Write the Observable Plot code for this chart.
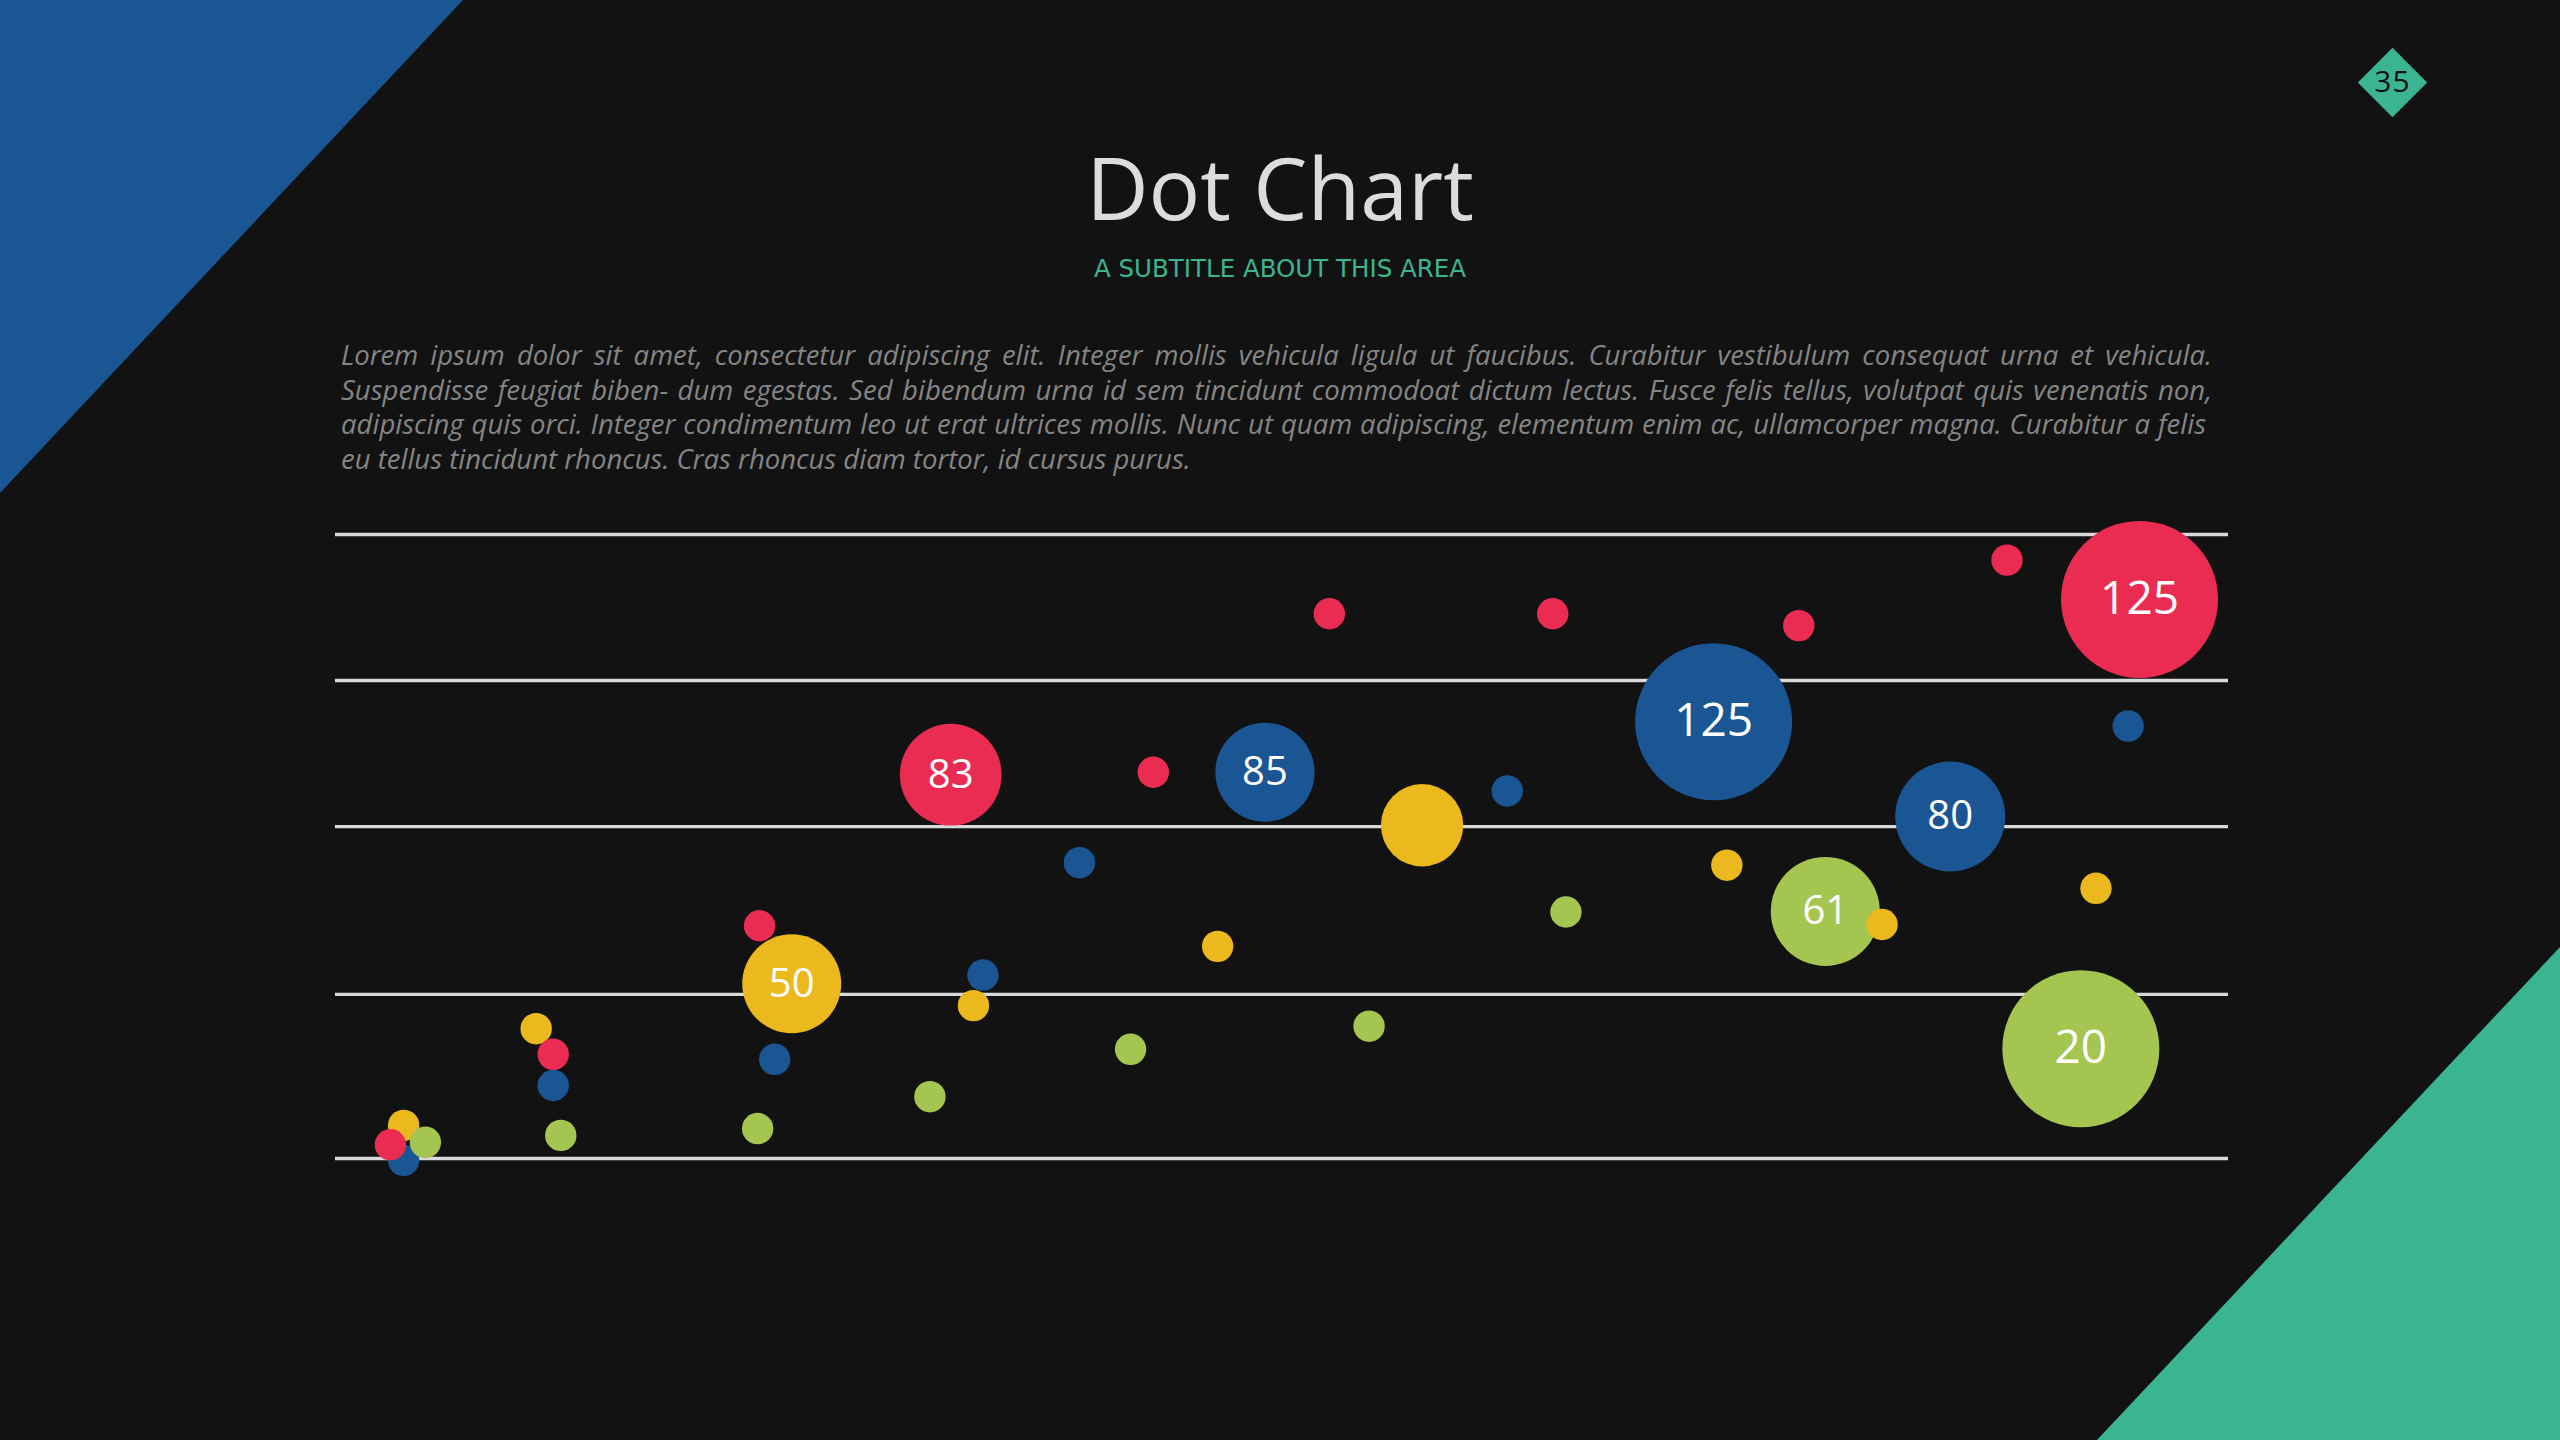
<!DOCTYPE html>
<html>
<head>
<meta charset="utf-8">
<script src="https://cdn.jsdelivr.net/npm/d3@7"></script>
<script src="https://cdn.jsdelivr.net/npm/@observablehq/plot@0.6"></script>
<style>
  html, body { margin: 0; padding: 0; }
  body { width: 2560px; height: 1440px; background: #121212; position: relative; overflow: hidden; font-family: "Open Sans", sans-serif; }
  .tri-blue { position: absolute; left: 0; top: 0; width: 463px; height: 493px; background: #1a5594; clip-path: polygon(0 0, 100% 0, 0 100%); }
  .tri-green { position: absolute; left: 2097px; top: 947px; width: 463px; height: 493px; background: #3bb591; clip-path: polygon(100% 0, 100% 100%, 0 100%); }
  .badge { position: absolute; left: 2358px; top: 48px; width: 69px; height: 69px; }
  .badge .sq { position: absolute; left: 10px; top: 10px; width: 49px; height: 49px; background: #3bb591; transform: rotate(45deg); }
  .badge .num { position: absolute; left: 0; top: 0; width: 69px; height: 66px; line-height: 66px; text-align: center; font-family: "Open Sans", sans-serif; font-size: 30px; color: #111; letter-spacing: 1px; }
  #title { position: absolute; left: 0; width: 2560px; top: 144px; text-align: center; font-family: "Open Sans", sans-serif; font-size: 86px; line-height: 1; color: #dcdcdc; }
  #subtitle { position: absolute; left: 0; width: 2560px; top: 257px; text-align: center; font-family: "DejaVu Sans", sans-serif; font-size: 24.5px; line-height: 1; color: #3bb591; }
  #para { position: absolute; left: 341px; top: 338px; width: 1871px; font-family: "Open Sans", sans-serif; font-style: italic; font-size: 27.5px; line-height: 34.5px; color: #858585; }
  #para div { white-space: nowrap; }
  #para .j { text-align: justify; text-align-last: justify; white-space: normal; }
  #chart { position: absolute; left: 0; top: 450px; }
  #chart svg { overflow: visible; }
</style>
</head>
<body>
<div class="tri-blue"></div>
<div class="tri-green"></div>
<div class="badge"><div class="sq"></div><div class="num">35</div></div>
<div id="title"></div>
<div id="subtitle"></div>
<div id="para"></div>
<div id="chart"></div>
<script>
// ---- text ----
const titleText = "Dot Chart";
const subtitleText = "A SUBTITLE ABOUT THIS AREA";
const paragraphLines = [
  "Lorem ipsum dolor sit amet, consectetur adipiscing elit. Integer mollis vehicula ligula ut faucibus. Curabitur vestibulum consequat urna et vehicula.",
  "Suspendisse feugiat biben- dum egestas. Sed bibendum urna id sem tincidunt commodoat dictum lectus. Fusce felis tellus, volutpat quis venenatis non,",
  "adipiscing quis orci. Integer condimentum leo ut erat ultrices mollis. Nunc ut quam adipiscing, elementum enim ac, ullamcorper magna. Curabitur a felis",
  "eu tellus tincidunt rhoncus. Cras rhoncus diam tortor, id cursus purus."
];

// ---- data ----
const seriesNames = ["Series A", "Series B", "Series C", "Series D"];
const seriesColors = ["#1b5694", "#ebb81e", "#ea2c53", "#a4c550"];
const gridValues = [0, 26.3, 53.2, 76.6, 100];

// Series A (blue)
const aX = [3.6, 11.5, 23.2, 34.2, 39.3, 49.1, 61.9, 72.8, 85.3, 94.7];
const aY = [-0.3, 11.7, 15.9, 29.4, 47.4, 61.9, 58.9, 70.0, 54.8, 69.3];
const aSize = [25, 25, 25, 25, 25, 79, 25, 125, 87.6, 25];
const aLabel = ["", "", "", "", "", "85", "", "125", "80", ""];

// Series B (yellow)
const bX = [3.6, 10.6, 24.1, 33.7, 46.6, 57.4, 73.5, 81.7, 93.0];
const bY = [5.3, 20.8, 28.0, 24.5, 34.0, 53.4, 47.0, 37.5, 43.3];
const bSize = [25, 25, 78.8, 25, 25, 65.6, 25, 25, 25];
const bLabel = ["", "", "50", "", "", "", "", "", ""];

// Series C (red)
const cX = [2.9, 11.5, 22.4, 32.5, 43.2, 52.5, 64.3, 77.3, 88.3, 95.3];
const cY = [2.2, 16.7, 37.3, 61.5, 61.9, 87.3, 87.3, 85.4, 95.9, 89.6];
const cSize = [25, 25, 25, 81, 25, 25, 25, 25, 25, 125];
const cLabel = ["", "", "", "83", "", "", "", "", "", "125"];

// Series D (green)
const dX = [4.75, 11.9, 22.3, 31.4, 42.0, 54.6, 65.0, 78.7, 92.2];
const dY = [2.6, 3.7, 4.8, 9.9, 17.5, 21.2, 39.5, 39.6, 17.6];
const dSize = [25, 25, 25, 25, 25, 25, 25, 86.8, 125];
const dLabel = ["", "", "", "", "", "", "", "61", "20"];

// ---- build table ----
const seriesData = [
  [aX, aY, aSize, aLabel],
  [bX, bY, bSize, bLabel],
  [cX, cY, cSize, cLabel],
  [dX, dY, dSize, dLabel]
];
const points = [];
seriesData.forEach(([xs, ys, ss, ls], i) => {
  xs.forEach((x, j) => points.push({series: seriesNames[i], x, y: ys[j], size: ss[j], label: ls[j]}));
});
const labeled = points.filter(d => d.label !== "");

// ---- page text ----
document.getElementById("title").textContent = titleText;
document.getElementById("subtitle").textContent = subtitleText;
const para = document.getElementById("para");
paragraphLines.forEach((t, i) => {
  const div = document.createElement("div");
  div.textContent = t;
  if (i < paragraphLines.length - 1) div.className = "j";
  if (i === 2) div.style.width = "1865px";
  para.appendChild(div);
});

// ---- chart ----
const chart = Plot.plot({
  width: 2560,
  height: 800,
  marginLeft: 335,
  marginRight: 332,
  marginTop: 84,
  marginBottom: 92,
  x: {domain: [0, 100], axis: null},
  y: {domain: [0, 100], axis: null},
  r: {type: "linear", domain: [0, 125], range: [0, 78.5]},
  color: {type: "categorical", domain: seriesNames, range: seriesColors},
  style: {background: "transparent", overflow: "visible"},
  marks: [
    Plot.ruleY(gridValues, {stroke: "#d9d9d9", strokeWidth: 3.3}),
    Plot.dot(points, {x: "x", y: "y", r: "size", fill: "series", stroke: "none"}),
    Plot.text(labeled, {
      x: "x", y: "y", text: "label", fill: "#ffffff",
      fontSize: d => d.size >= 100 ? 46 : 40,
      fontFamily: "Open Sans, sans-serif",
      textAnchor: "middle", lineAnchor: "middle"
    })
  ]
});
document.getElementById("chart").appendChild(chart);
</script>
</body>
</html>
